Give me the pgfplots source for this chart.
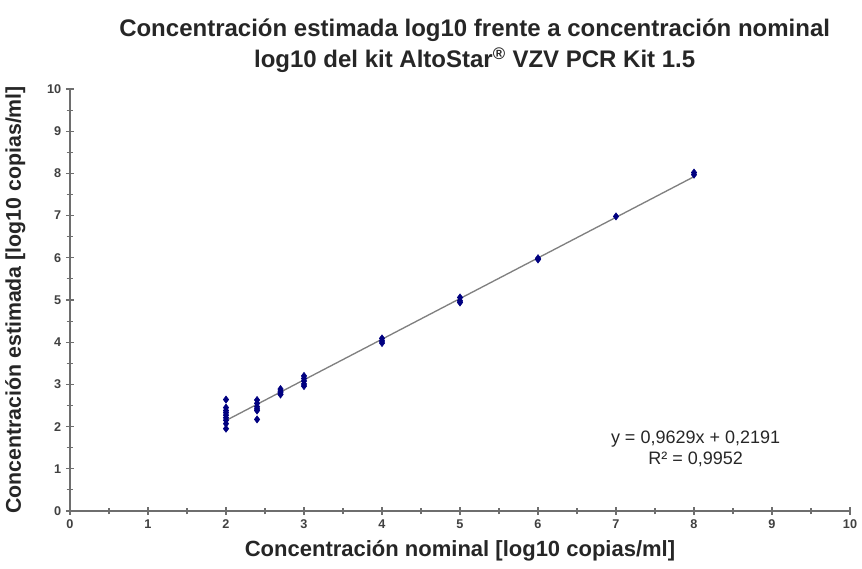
\documentclass[border=0pt]{standalone}
\usepackage{pgfplots}
\pgfplotsset{compat=1.18}
\usepackage{fontspec}
\setmainfont{Liberation Sans}

\definecolor{ptblue}{RGB}{0,0,128}
\definecolor{trend}{RGB}{128,128,128}
\definecolor{axgray}{RGB}{110,110,110}

\begin{document}
\begin{tikzpicture}
\begin{axis}[
    scale only axis,
    width=585pt, height=316.5pt,
    xmin=0, xmax=10, ymin=0, ymax=10,
    axis x line=bottom, axis y line=left,
    axis line style={-, axgray, line width=0.9pt},
    xtick={0,...,10}, ytick={0,...,10},
    minor x tick num=1, minor y tick num=1,
    tick align=center,
    major tick length=6pt, minor tick length=5pt,
    every tick/.style={axgray, line width=0.8pt},
    tick label style={font=\fontsize{9.5}{11}\selectfont\bfseries, black!75},
    /pgf/number format/assume math mode=true,
    xlabel={Concentración nominal [log10 copias/ml]},
    ylabel={Concentración estimada [log10 copias/ml]},
    xlabel style={font=\fontsize{16.5}{19}\selectfont\bfseries, black!85,
      at={(axis description cs:0.5,0)}, anchor=center, yshift=-30pt},
    ylabel style={font=\fontsize{16}{19}\selectfont\bfseries, black!85,
      at={(axis description cs:0,0.5)}, anchor=center, yshift=41pt},
    clip=false,
]
\addplot[trend, line width=1pt] coordinates {(2,2.1449) (8,7.9223)};
\addplot[only marks, mark=diamond*, mark size=2.7pt, ptblue, mark options={fill=ptblue}]
coordinates {
  (2,2.64) (2,2.45) (2,2.38) (2,2.33) (2,2.27) (2,2.21) (2,2.15) (2,2.07) (2,1.95)
  (2.398,2.63) (2.398,2.55) (2.398,2.47) (2.398,2.42) (2.398,2.38) (2.398,2.17)
  (2.699,2.89) (2.699,2.84) (2.699,2.80) (2.699,2.76)
  (3,3.20) (3,3.14) (3,3.08) (3,3.01) (3,2.96)
  (4,4.09) (4,4.03) (4,3.98)
  (5,5.06) (5,4.98) (5,4.94)
  (6,5.99) (6,5.96)
  (7,6.98)
  (8,8.02) (8,7.97)
};
\node[align=center, font=\fontsize{13.5}{16}\selectfont, black!85] at (axis cs:8.02,1.47)
  {y = 0,9629x + 0,2191\\R² = 0,9952};
\end{axis}
\node[font=\fontsize{18}{21}\selectfont\bfseries, black!85, anchor=center]
  at ([xshift=11pt, yshift=44.25pt]current axis.north)
  {Concentración estimada log10 frente a concentración nominal};
\node[font=\fontsize{18}{21}\selectfont\bfseries, black!85, anchor=center]
  at ([xshift=11pt, yshift=21.75pt]current axis.north)
  {log10 del kit AltoStar\textsuperscript{®} VZV PCR Kit 1.5};
\pgfresetboundingbox
\path ([xshift=-52.5pt, yshift=-43.5pt]current axis.south west)
  rectangle ([xshift=9pt, yshift=66.75pt]current axis.north east);
\end{tikzpicture}
\end{document}
